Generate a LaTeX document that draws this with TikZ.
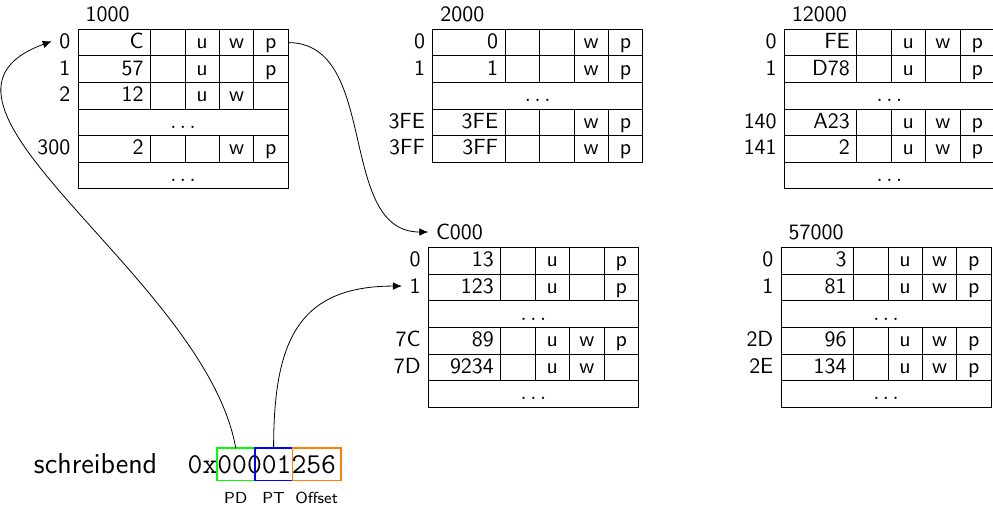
\documentclass[11pt,tikz,border=0pt]{standalone}
\usetikzlibrary{positioning,arrows.meta}
\tikzstyle{cell}=[draw, inner sep=0pt, outer sep=0pt, minimum height=13.3pt, text height=1.5ex, text depth=.25ex]
\tikzstyle{framecell}=[cell, minimum width=36.25pt, inner xsep=3.5pt, text width=29.25pt, align=right]
\tikzstyle{flag}=[cell, minimum width=17.2pt]
\tikzstyle{dotcell}=[cell, minimum width=105.05pt]
\tikzstyle{tabletitle}=[anchor=south west]
\tikzstyle{field}=[draw, thick, inner sep=0pt, outer sep=0pt, minimum height=16.2pt]
\tikzstyle{fieldname}=[font=\sffamily\scriptsize, below=2pt of #1]
\tikzstyle{ptr}=[-{Latex[length=4.5pt,width=3.8pt]}]
% one table entry: name, position, index, frame, u, w, p
\newcommand{\pterow}[7]{%
  \node[framecell, anchor=north west] (#1) at (#2) {#4};
  \node[flag, right=0pt of #1] (#1-x) {};
  \node[flag, right=0pt of #1-x] (#1-u) {#5};
  \node[flag, right=0pt of #1-u] (#1-w) {#6};
  \node[flag, right=0pt of #1-w] (#1-p) {#7};
  \node[anchor=base east] (#1-l) at (#1.base west) {#3};
}
\newcommand{\ptedots}[2]{\node[dotcell, anchor=north west] (#1) at (#2) {$\ldots$};}

\begin{document}
\begin{tikzpicture}[x=0.5pt, y=-0.5pt, font=\sffamily]
\clip (0,0) rectangle (993,506);
% Page directory
    \pterow{dir0}{78,29.3}{0}{C}{u}{w}{p}
    \pterow{dir1}{dir0.south west}{1}{57}{u}{}{p}
    \pterow{dir2}{dir1.south west}{2}{12}{u}{w}{}
    \ptedots{dirdots}{dir2.south west}
    \pterow{dir300}{dirdots.south west}{300}{2}{}{w}{p}
    \ptedots{dirend}{dir300.south west}
    \node[tabletitle] (dirtitle) at (dir0.north west) {1000};
% Page table 2000
    \pterow{tA0}{432.7,29.3}{0}{0}{}{w}{p}
    \pterow{tA1}{tA0.south west}{1}{1}{}{w}{p}
    \ptedots{tAdots}{tA1.south west}
    \pterow{tA3FE}{tAdots.south west}{3FE}{3FE}{}{w}{p}
    \pterow{tA3FF}{tA3FE.south west}{3FF}{3FF}{}{w}{p}
    \node[tabletitle] (tAtitle) at (tA0.north west) {2000};
% Page table 12000
    \pterow{tB0}{784.3,29.3}{0}{FE}{u}{w}{p}
    \pterow{tB1}{tB0.south west}{1}{D78}{u}{}{p}
    \ptedots{tBdots}{tB1.south west}
    \pterow{tB140}{tBdots.south west}{140}{A23}{u}{w}{p}
    \pterow{tB141}{tB140.south west}{141}{2}{u}{w}{p}
    \ptedots{tBend}{tB141.south west}
    \node[tabletitle] (tBtitle) at (tB0.north west) {12000};
% Page table C000
    \pterow{tC0}{428.3,247.7}{0}{13}{u}{}{p}
    \pterow{tC1}{tC0.south west}{1}{123}{u}{}{p}
    \ptedots{tCdots}{tC1.south west}
    \pterow{tC7C}{tCdots.south west}{7C}{89}{u}{w}{p}
    \pterow{tC7D}{tC7C.south west}{7D}{9234}{u}{w}{}
    \ptedots{tCend}{tC7D.south west}
    \node[tabletitle] (tCtitle) at (tC0.north west) {C000};
% Page table 57000
    \pterow{tD0}{781,247.7}{0}{3}{u}{w}{p}
    \pterow{tD1}{tD0.south west}{1}{81}{u}{w}{p}
    \ptedots{tDdots}{tD1.south west}
    \pterow{tD2D}{tDdots.south west}{2D}{96}{u}{w}{p}
    \pterow{tD2E}{tD2D.south west}{2E}{134}{u}{w}{p}
    \ptedots{tDend}{tD2E.south west}
    \node[tabletitle] (tDtitle) at (tD0.north west) {57000};
% Virtual address
    \node[anchor=base west, font=\sffamily\Large] (mode) at (26.3,474) {schreibend};
    \node[anchor=base west, font=\Large\ttfamily] (vaddr) at (180,474) {0x00001256};
    \node[field, draw=green, minimum width=18.9pt, anchor=south west] (pdbox) at (216.9,480.7) {};
    \node[field, draw=blue, minimum width=18.9pt, right=0pt of pdbox] (ptbox) {};
    \node[field, draw=orange, minimum width=24.1pt, right=0pt of ptbox] (offbox) {};
    \node[fieldname=pdbox] (pdname) {PD};
    \node[fieldname=ptbox] (ptname) {PT};
    \node[fieldname=offbox] (offname) {Offset};
% Lookups
    \draw[ptr] (dir0-p.east) to[out=0, in=180] (tCtitle.west);
    \draw[ptr] (pdbox.north) to[out=100, in=200] (dir0-l.west);
    \draw[ptr] (ptbox.north) to[out=90, in=180, looseness=1.3] (tC1-l.west);
\end{tikzpicture}
\end{document}
